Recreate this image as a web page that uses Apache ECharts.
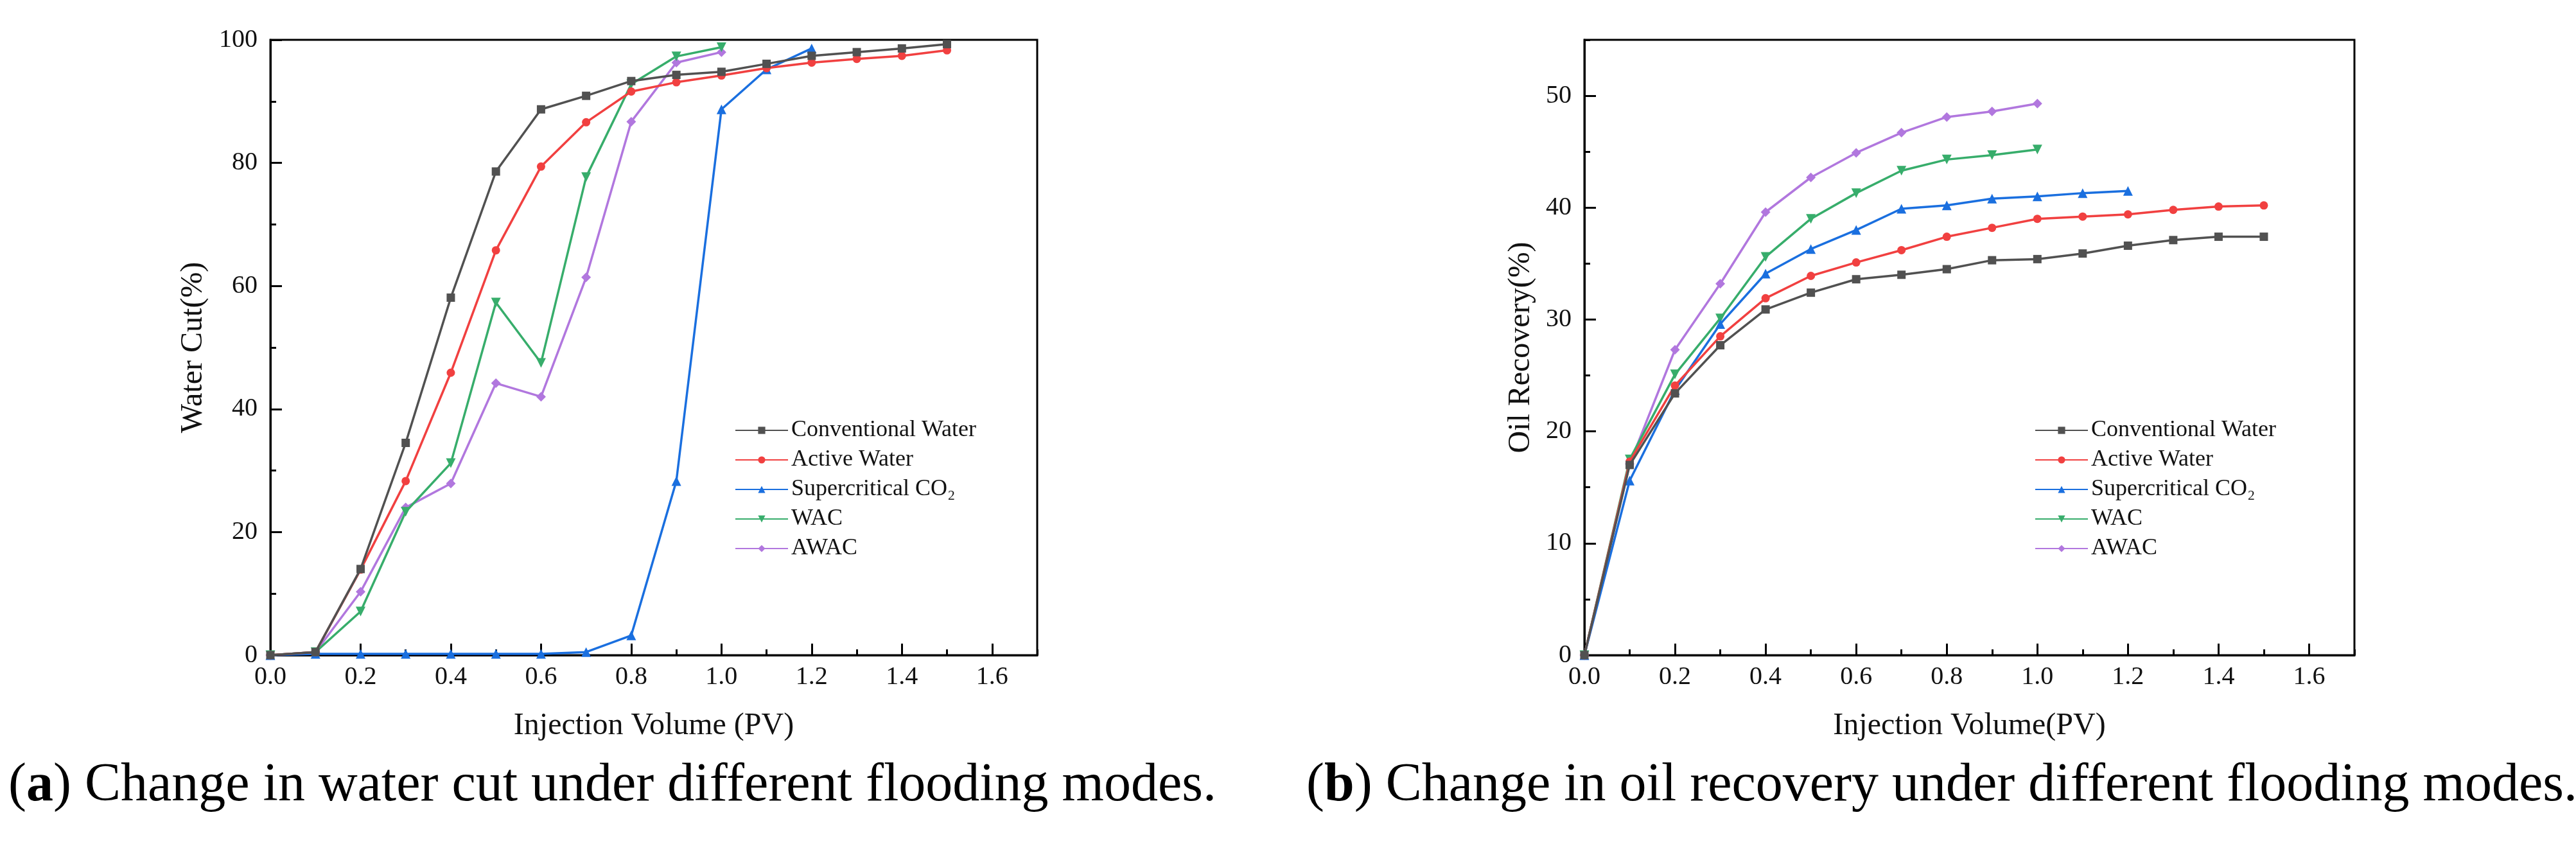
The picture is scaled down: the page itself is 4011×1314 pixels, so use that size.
<!DOCTYPE html>
<html>
<head>
<meta charset="utf-8">
<title>Flooding modes</title>
<script src="https://cdn.jsdelivr.net/npm/echarts@6/dist/echarts.min.js"></script>
<style>
  html, body { margin: 0; padding: 0; background: #fff; }
  #chart { width: 4011px; height: 1314px; }
</style>
</head>
<body>
<div id="chart"></div>
<script>
// injection volume (PV) for each point
var pv = [0, 0.1, 0.2, 0.3, 0.4, 0.5, 0.6, 0.7, 0.8, 0.9, 1.0, 1.1, 1.2, 1.3, 1.4, 1.5];

var seriesNames = ['Conventional Water', 'Active Water', 'Supercritical CO\u2082', 'WAC', 'AWAC'];
var colors = ['#515151', '#f14040', '#1a6fdf', '#37ad6b', '#b177de'];

// (a) water cut, %
var cutConventional = [0, 0.5, 14.0, 34.5, 58.1, 78.6, 88.7, 90.9, 93.3, 94.3, 94.8, 96.1, 97.4, 98.0, 98.6, 99.3];
var cutActive = [0, 0.5, 13.9, 28.3, 45.9, 65.8, 79.4, 86.6, 91.6, 93.1, 94.2, 95.4, 96.3, 96.9, 97.4, 98.3];
var cutCO2 = [0, 0.2, 0.2, 0.2, 0.2, 0.2, 0.2, 0.5, 3.2, 28.3, 88.7, 95.2, 98.6];
var cutWAC = [0, 0.5, 7.1, 23.3, 31.2, 57.3, 47.5, 77.7, 92.8, 97.3, 98.8];
var cutAWAC = [0, 0.5, 10.3, 24.0, 27.9, 44.2, 42.0, 61.4, 86.7, 96.3, 98.0];

// (b) oil recovery, %
var recConventional = [0, 17.0, 23.4, 27.7, 30.9, 32.4, 33.6, 34.0, 34.5, 35.3, 35.4, 35.9, 36.6, 37.1, 37.4, 37.4];
var recActive = [0, 17.3, 24.1, 28.5, 31.9, 33.9, 35.1, 36.2, 37.4, 38.2, 39.0, 39.2, 39.4, 39.8, 40.1, 40.2];
var recCO2 = [0, 15.6, 23.7, 29.6, 34.1, 36.3, 38.0, 39.9, 40.2, 40.8, 41.0, 41.3, 41.5];
var recWAC = [0, 17.5, 25.1, 30.1, 35.6, 39.0, 41.3, 43.3, 44.3, 44.7, 45.2];
var recAWAC = [0, 17.1, 27.3, 33.2, 39.6, 42.7, 44.9, 46.7, 48.1, 48.6, 49.3];

var captionA = 'Change in water cut under different flooding modes.';
var captionB = 'Change in oil recovery under different flooding modes.';

var FONT = '"Liberation Serif", "Times New Roman", serif';

function pairs(vals) {
    var out = [];
    for (var i = 0; i < vals.length; i++) {
        out.push([pv[i], vals[i]]);
    }
    return out;
}

var symbols = ['rect', 'circle', 'triangle', 'triangle', 'diamond'];
var symbolRot = [0, 0, 0, 180, 0];
var symbolSz = [13, 13, 15, 15, 15];

function makeSeries(gridIdx, lists) {
    return lists.map(function (vals, k) {
        return {
            name: seriesNames[k],
            type: 'line',
            xAxisIndex: gridIdx * 2,
            yAxisIndex: gridIdx * 2,
            data: pairs(vals),
            symbol: symbols[k],
            symbolRotate: symbolRot[k],
            symbolSize: symbolSz[k],
            showAllSymbol: true,
            color: colors[k],
            lineStyle: { width: 3.5, color: colors[k] },
            itemStyle: { color: colors[k] },
            z: 10 - k,
            animation: false
        };
    });
}

// main axes carry labels + long ticks, a second copy gives the short minor ticks
function xMain(gridIdx, title, gap) {
    return {
        type: 'value', gridIndex: gridIdx, min: 0, max: 1.7, interval: 0.2,
        position: 'bottom',
        name: title, nameLocation: 'middle', nameGap: gap,
        nameTextStyle: { fontFamily: FONT, fontSize: 48, color: '#111' },
        axisLine: { show: true, onZero: false, lineStyle: { color: '#000', width: 3 } },
        axisTick: { show: true, inside: true, length: 18, lineStyle: { color: '#000', width: 3 } },
        axisLabel: {
            fontFamily: FONT, fontSize: 40, color: '#111', margin: 14, showMaxLabel: false,
            formatter: function (v) { return v.toFixed(1); }
        },
        splitLine: { show: false }
    };
}
function xMinor(gridIdx) {
    return {
        type: 'value', gridIndex: gridIdx, min: 0, max: 1.7, interval: 0.1,
        position: 'bottom',
        axisLine: { show: false },
        axisTick: { show: true, inside: true, length: 9, lineStyle: { color: '#000', width: 3 } },
        axisLabel: { show: false },
        splitLine: { show: false }
    };
}
function yMain(gridIdx, max, step, title, gap) {
    return {
        type: 'value', gridIndex: gridIdx, min: 0, max: max, interval: step,
        position: 'left',
        name: title, nameLocation: 'middle', nameGap: gap, nameRotate: 90,
        nameTextStyle: { fontFamily: FONT, fontSize: 48, color: '#111' },
        axisLine: { show: true, onZero: false, lineStyle: { color: '#000', width: 3 } },
        axisTick: { show: true, inside: true, length: 18, lineStyle: { color: '#000', width: 3 } },
        axisLabel: { fontFamily: FONT, fontSize: 40, color: '#111', margin: 20, showMaxLabel: max % step === 0 },
        splitLine: { show: false }
    };
}
function yMinor(gridIdx, max, step) {
    return {
        type: 'value', gridIndex: gridIdx, min: 0, max: max, interval: step,
        position: 'left',
        axisLine: { show: false },
        axisTick: { show: true, inside: true, length: 9, lineStyle: { color: '#000', width: 3 } },
        axisLabel: { show: false },
        splitLine: { show: false }
    };
}

function makeLegend(left) {
    return {
        orient: 'vertical',
        left: left, top: 647,
        itemWidth: 82, itemHeight: 14, itemGap: 10,
        data: seriesNames,
        textStyle: { fontFamily: FONT, fontSize: 36, color: '#111', padding: [0, 0, 0, 0] },
        selectedMode: false
    };
}

var chart = echarts.init(document.getElementById('chart'));
var option = {
    backgroundColor: '#fff',
    animation: false,
    grid: [
        { left: 421, top: 62, width: 1194, height: 958, show: true, borderColor: '#000', borderWidth: 3, containLabel: false },
        { left: 2467, top: 62, width: 1199, height: 958, show: true, borderColor: '#000', borderWidth: 3, containLabel: false }
    ],
    legend: [makeLegend(1139), makeLegend(3163)],
    xAxis: [
        xMain(0, 'Injection Volume (PV)', 86), xMinor(0),
        xMain(1, 'Injection Volume(PV)', 86), xMinor(1)
    ],
    yAxis: [
        yMain(0, 100, 20, 'Water Cut(%)', 96), yMinor(0, 100, 10),
        yMain(1, 55, 10, 'Oil Recovery(%)', 75), yMinor(1, 55, 5)
    ],
    series: makeSeries(0, [cutConventional, cutActive, cutCO2, cutWAC, cutAWAC])
        .concat(makeSeries(1, [recConventional, recActive, recCO2, recWAC, recAWAC])),
    graphic: [
        {
            type: 'text', left: 13, top: 1182,
            style: {
                text: '{p|(}{b|a}{p|) ' + captionA + '}',
                rich: {
                    p: { fontFamily: FONT, fontSize: 84, fill: '#000' },
                    b: { fontFamily: FONT, fontSize: 84, fontWeight: 'bold', fill: '#000' }
                }
            }
        },
        {
            type: 'text', left: 2034, top: 1182,
            style: {
                text: '{p|(}{b|b}{p|) ' + captionB + '}',
                rich: {
                    p: { fontFamily: FONT, fontSize: 84, fill: '#000' },
                    b: { fontFamily: FONT, fontSize: 84, fontWeight: 'bold', fill: '#000' }
                }
            }
        }
    ]
};
chart.setOption(option);
</script>
</body>
</html>
